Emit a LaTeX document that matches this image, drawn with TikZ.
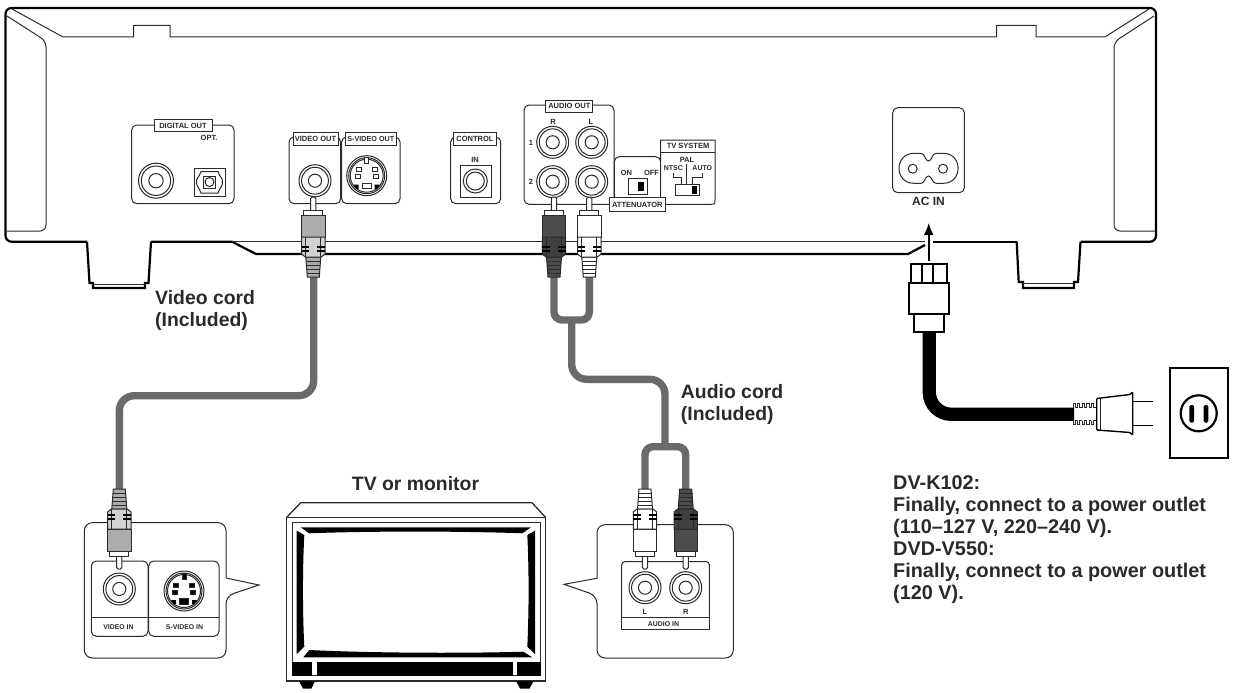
\documentclass[tikz,border=0pt]{standalone}
\usepackage{fontspec}
\setmainfont{Liberation Sans}
\usetikzlibrary{arrows.meta}
\definecolor{cordgray}{HTML}{6A6A6A}
\definecolor{inkgray}{HTML}{2A2A2A}
\tikzset{
  hull/.style={line width=2.2pt,black},
  fine/.style={line width=1pt,inkgray},
  panel/.style={fine,fill=white,rounded corners=5pt},
  cord/.style={line width=7.4pt,cordgray,rounded corners=15pt},
  ycord/.style={line width=7.4pt,cordgray,rounded corners=8pt},
  tag/.style={draw=inkgray,line width=1pt,fill=white,inner sep=0pt,text=inkgray,font=\fontsize{7.5}{9}\selectfont\bfseries},
  small/.style={inner sep=0pt,text=inkgray,font=\fontsize{7.5}{9}\selectfont\bfseries},
  lbl/.style={inner sep=0pt,text=inkgray,align=left,font=\fontsize{19.4}{22}\selectfont\bfseries},
}
\newcommand{\rcajack}[3]{
  \draw[fine,fill=white] (#1,#2) circle (#3);
  \draw[fine] (#1,#2) circle ({#3*.84});
  \draw[fine] (#1,#2) circle ({#3*.41});
}
\newcommand{\svideojack}[3]{
  \begin{scope}[shift={(#1,#2)}]
  \draw[fine,fill=white] (0,0) circle (20);
  \draw[fine] (0,0) circle (18);
  \draw[fine] (0,0) circle (16.5);
  \draw[fine,fill=#3] (-2,-18) rectangle (2,-12);
  \draw[fine,fill=#3] (-10.5,-8) rectangle (-5.5,-4);
  \draw[fine,fill=#3] (5.5,-8) rectangle (10.5,-4);
  \draw[fine,fill=#3] (-11.5,-1) rectangle (-6.5,3);
  \draw[fine,fill=#3] (6.5,-1) rectangle (11.5,3);
  \draw[fine,fill=#3] (-4.5,7.5) rectangle (4.5,13);
  \fill[black] (-13,9) -- (-8,9) -- (-8,13) -- (-10,13.5) -- cycle;
  \fill[black] (13,9) -- (8,9) -- (8,13) -- (10,13.5) -- cycle;
  \end{scope}
}
\newcommand{\rcaplug}[5]{
  \begin{scope}[shift={(#1,#2)},yscale=#3]
  \draw[fine,fill=white,rounded corners=1.5pt] (-2.6,14) -- (-2.6,0) -- (2.6,0) -- (2.6,14);
  \draw[fine,fill=white] (-9.5,13) rectangle (9.5,18);
  \draw[fine,fill=#4] (-7.5,60) -- (-6,80) -- (6,80) -- (7.5,60) -- cycle;
  \foreach \r in {64,68,72,76} {\draw[fine] (-6.8,\r) -- (6.8,\r);}
  \draw[fine,fill=#4] (-11.7,18) rectangle (11.7,40);
  \draw[fine,fill=#5] (-11.7,40) -- (-11.7,57) -- (-8,60) -- (8,60) -- (11.7,57) -- (11.7,40) -- cycle;
  \draw[fine] (-7.5,40) -- (-7.5,60);
  \draw[fine] (7.5,40) -- (7.5,60);
  \fill[black] (-11.7,49) rectangle (-4,51);
  \fill[black] (-11.7,53) rectangle (-4,55);
  \fill[black] (4,49) rectangle (11.7,51);
  \fill[black] (4,53) rectangle (11.7,55);
  \end{scope}
}
\begin{document}
\begin{tikzpicture}[x=1pt,y=-1pt]
\useasboundingbox (0,0) rectangle (1234,693);

\draw[hull,rounded corners=6pt] (87,241.7) -- (5.5,241.7) -- (5.5,8) -- (1156,8) -- (1156,241.7) -- (1080.5,241.7);
\draw[hull] (87,241.7) -- (89.5,283) -- (93,283) -- (93,288) -- (145,288) -- (145,283) -- (148.5,283) -- (151,241.7);
\draw[hull] (1016.7,241.7) -- (1018.7,282) -- (1023,282) -- (1023,288) -- (1074,288) -- (1074,282) -- (1078,282) -- (1080.5,241.7);
\draw[hull] (151,241.7) -- (232,241.7) -- (256,254) -- (908,254) -- (925,245);
\draw[hull] (933,241.7) -- (1016.7,241.7);
\draw[fine] (92,284) -- (146,284);
\draw[fine] (1023,283.5) -- (1074,283.5);
\draw[fine] (232,241.7) -- (925,241.7);
\draw[fine] (12,9) -- (63,37) -- (133.5,37) -- (133.5,25.5) -- (170,25.5) -- (170,37) -- (996.5,37) -- (996.5,25.5) -- (1036,25.5) -- (1036,37) -- (1105,37) -- (1149,9);
\draw[fine,rounded corners=6pt] (7,16) -- (46,41) -- (46,231) -- (7,231);
\draw[fine,rounded corners=6pt] (1154,16) -- (1114,42) -- (1114,231) -- (1155,231);

\draw[panel] (131.7,125) rectangle (234,203.7);
\draw (183,125.7) node (digitalout) [tag,minimum width=58pt,minimum height=12.5pt] {DIGITAL OUT};
\draw (209,137.5) node (opt) [small] {OPT.};
\rcajack{156}{180.7}{17.5}
\draw[fine] (194,168.3) rectangle (225,196.7);
\draw[fine] (201,171.5) -- (218,171.5) .. controls (219.5,177) and (223,178) .. (222.5,182) .. controls (223,186) and (219.5,188) .. (218,193) -- (201,193) .. controls (199.5,188) and (196,186) .. (196.5,182) .. controls (196,178) and (199.5,177) .. (201,171.5) -- cycle;
\draw[fine] (203.3,176) rectangle (215.7,188.3);
\draw[fine] (209.5,182) circle (4.5);

\draw[panel] (289,137) rectangle (340.7,203.7);
\draw[panel] (341.7,137) rectangle (400,203.7);
\draw (315.5,139) node (videoout) [tag,minimum width=45pt,minimum height=13pt] {VIDEO OUT};
\draw (370.8,139) node (svideoout) [tag,minimum width=50.5pt,minimum height=13pt,font=\fontsize{7.2}{9}\selectfont\bfseries] {S-VIDEO OUT};
\rcajack{315}{180.7}{16}
\svideojack{366.7}{175.7}{white}

\draw[panel] (450.7,137) rectangle (500.7,203.7);
\draw (475,139.2) node (control) [tag,minimum width=43.4pt,minimum height=13pt] {CONTROL};
\draw (475,160) node (controlin) [small] {IN};
\draw[fine] (460,165) rectangle (491,197.3);
\draw[fine] (475.3,181) circle (12);
\draw[fine] (475.3,181) circle (9);

\draw[panel] (524,105) rectangle (614,204.3);
\draw (569.3,106.2) node (audioout) [tag,minimum width=46.7pt,minimum height=12.3pt] {AUDIO OUT};
\draw (553,122) node (outr) [small] {R};
\draw (591,122) node (outl) [small] {L};
\draw (531,143) node (outone) [small] {1};
\draw (531,182) node (outtwo) [small] {2};
\rcajack{552.7}{142.3}{16}
\rcajack{591.7}{142.3}{16}
\rcajack{552.7}{181.7}{16}
\rcajack{591.7}{181.7}{16}

\draw[panel] (614.3,156.7) rectangle (660.7,204.3);
\draw[fine,fill=white] (660.7,140) -- (660.7,204.3) -- (710,204.3) .. controls (715,204.3) and (715,204.3) .. (715,199.3) -- (715,140) -- cycle;
\draw[fine] (660.7,152.3) -- (715,152.3);
\draw (637.3,204.7) node (attenuator) [tag,minimum width=56pt,minimum height=14pt] {ATTENUATOR};
\draw (626.5,172.5) node (attenon) [small] {ON};
\draw (651.5,172.5) node (attenoff) [small] {OFF};
\draw[fine] (628,178.7) rectangle (647.3,194.7);
\fill[black] (637.7,182) rectangle (644,191);
\draw (688,146.2) node (tvsystem) [small] {TV SYSTEM};
\draw (687,160) node (pal) [small] {PAL};
\draw (673.3,168.3) node (ntsc) [small,font=\fontsize{7}{9}\selectfont\bfseries] {NTSC};
\draw (702.3,168.3) node (auto) [small,font=\fontsize{7}{9}\selectfont\bfseries] {AUTO};
\draw[fine] (686.3,164) -- (686.3,184.3);
\draw[fine] (673.3,173) -- (673.3,177) -- (681.7,177) -- (681.7,184.3);
\draw[fine] (702,173) -- (702,177) -- (692,177) -- (692,184.3);
\draw[fine] (675.3,184.3) rectangle (699.3,195.7);
\fill[black] (691.7,185.7) rectangle (697.3,194.3);

\draw[panel] (892.7,107.7) rectangle (964.3,192.7);
\draw[fine] (914,153.3) -- (921,153.3) .. controls (925,153.3) and (925,161) .. (928.4,161) .. controls (932,161) and (932,153.3) .. (936,153.3) -- (943.3,153.3) .. controls (963,153.3) and (963,183.3) .. (943.3,183.3) -- (936,183.3) .. controls (932,183.3) and (932,176) .. (928.4,176) .. controls (925,176) and (925,183.3) .. (921,183.3) -- (914,183.3) .. controls (894,183.3) and (894,153.3) .. (914,153.3) -- cycle;
\draw[fine] (912.7,168.7) circle (4.5);
\draw[fine] (943,168.7) circle (4.5);
\draw (928.5,201) node (acin) [small,font=\fontsize{12}{14}\selectfont\bfseries] {AC IN};

\coordinate (plugtop) at (928.7,261);
\coordinate (plughead) at (928.7,223);
\draw[line width=1.8pt,black,-{Latex[length=12pt,width=10pt]}] (plugtop) -- (plughead);

\draw[fine,fill=white] (226,578) [rounded corners=8pt] -- (226,522.7) -- (84.3,522.7) -- (84.3,658) -- (226,658) -- (226,596) [sharp corners] -- (259,585) -- cycle;
\draw[panel] (91.3,561) rectangle (148,636.3);
\draw[panel] (148.7,561) rectangle (219,636.3);
\draw[fine] (91.3,617.7) -- (219,617.7);
\draw (118.5,627) node (videoin) [small,font=\fontsize{6.9}{9}\selectfont\bfseries] {VIDEO IN};
\draw (184.5,627) node (svideoin) [small,font=\fontsize{6.9}{9}\selectfont\bfseries] {S-VIDEO IN};
\rcajack{119.3}{589}{16}
\svideojack{184}{591}{black}

\draw[fine,fill=white] (597,578.3) [rounded corners=8pt] -- (597,524.7) -- (733.3,524.7) -- (733.3,658) -- (597,658) -- (597,595.7) [sharp corners] -- (564,584.3) -- cycle;
\draw[fine,rounded corners=3pt] (621.7,617.7) -- (621.7,561.7) -- (709.3,561.7) -- (709.3,617.7);
\draw[fine] (621.7,617.7) rectangle (709.3,629.3);
\draw (645,612) node (inl) [small] {L};
\draw (685.7,612) node (inr) [small] {R};
\draw (663.5,624.5) node (audioin) [small,font=\fontsize{6.9}{9}\selectfont\bfseries] {AUDIO IN};
\rcajack{645}{587.7}{16}
\rcajack{685.7}{587.7}{16}

\draw[fine,line width=1.3pt] (286.7,517.3) -- (300.7,502.7) -- (532,502.7) -- (545.5,517.3);
\draw[fine,line width=1.3pt,fill=white] (286.7,517.3) rectangle (545.5,681);
\draw[fine] (292,522.7) rectangle (540.7,675.7);
\fill[black] (300.7,527.3) -- (531,527.3) -- (522.3,533.3) .. controls (460,531) and (370,531) .. (309.3,533.3) -- cycle;
\fill[black] (296.7,530.7) -- (304.3,535) .. controls (302.5,570) and (302.5,610) .. (304.3,646.7) -- (296.7,654) -- cycle;
\fill[black] (535,530.7) -- (527.3,535) .. controls (529,570) and (529,610) .. (527.3,646.7) -- (535,654) -- cycle;
\fill[black] (303.3,657.3) -- (532.3,657.3) -- (523.3,651.7) .. controls (460,653.5) and (370,653) .. (309.3,650) -- cycle;
\fill[black] (292,661.7) rectangle (312,675.7);
\fill[black] (317,661.7) rectangle (512.7,675.7);
\fill[black] (517,661.7) rectangle (540.7,675.7);
\fill[black] (299,681) -- (315,681) -- (311.5,688.5) -- (303,688.5) -- cycle;
\fill[black] (516,681) -- (533.7,681) -- (529.5,688.5) -- (520,688.5) -- cycle;
\draw (415.5,490.7) node (tvname) [lbl,anchor=base] {TV or monitor};

\coordinate (videotop) at (313.7,275);
\coordinate (videobot) at (119.3,491);
\coordinate (rtop) at (554,275);
\coordinate (ltop) at (589.3,275);
\coordinate (splittop) at (571.7,320);
\coordinate (splitbot) at (665,446.7);
\coordinate (lbot) at (645,491);
\coordinate (rbot) at (685.7,491);
\draw[cord] (videotop) |- (119.3,395.7) -- (videobot);
\draw[ycord] (rtop) |- (ltop |- splittop) -- (ltop);
\draw[cord] (splittop) |- (665,379.3) -- (splitbot);
\draw[ycord] (lbot) |- (rbot |- splitbot) -- (rbot);

\rcaplug{313.3}{197}{1}{lightgray!90!black}{lightgray!70}
\rcaplug{554}{197}{1}{black!70}{black!75}
\rcaplug{589.3}{197}{1}{white}{white}
\rcaplug{119.3}{569}{-1}{lightgray!90!black}{lightgray!70}
\rcaplug{645}{569}{-1}{white}{white}
\rcaplug{685.7}{569}{-1}{black!70}{black!75}

\draw[hull,fill=white] (911,264.3) rectangle (946.7,283.3);
\draw[hull] (922.3,264.3) -- (922.3,283.3);
\draw[hull] (933.3,264.3) -- (933.3,283.3);
\draw[hull,fill=white] (909.3,283.3) rectangle (949,314.3);
\draw[hull,fill=white] (914.3,314.3) rectangle (944,332.3);
\coordinate (powerneck) at (929.3,333);
\coordinate (powertail) at (1074,414.3);
\draw[line width=13.3pt,black,rounded corners=22pt] (powerneck) |- (powertail);

\foreach \i in {0,...,4} {
  \draw[fine] ({1073+\i*4.6},407.5) -- ({1073+\i*4.6},403.5) -- ({1075.3+\i*4.6},403.5) -- ({1075.3+\i*4.6},407.5) -- ({1077.6+\i*4.6},407.5);
  \draw[fine] ({1073+\i*4.6},420.7) -- ({1073+\i*4.6},424.7) -- ({1075.3+\i*4.6},424.7) -- ({1075.3+\i*4.6},420.7) -- ({1077.6+\i*4.6},420.7);
}
\draw[hull,fill=white,line width=1.4pt,rounded corners=1pt] (1096.7,398.5) -- (1130,394.5) -- (1132.7,392) -- (1132.7,435) -- (1130,432.5) -- (1096.7,430) -- cycle;
\draw[fine] (1100.5,398.5) -- (1100.5,430);
\draw[hull,line width=1.4pt] (1132.7,401.7) -- (1152.7,401.7);
\draw[hull,line width=1.4pt] (1132.7,425.7) -- (1152.7,425.7);

\draw[hull,line width=1.8pt] (1170,367.7) rectangle (1228.3,457.7);
\draw[hull] (1198.7,413.3) circle (18);
\fill[black,rounded corners=1.5pt] (1189.4,405) rectangle (1194,422.7);
\fill[black,rounded corners=1.5pt] (1203.7,405) rectangle (1208.3,422.7);

\draw (155,290) node (videocord) [lbl,anchor=north west] {Video cord\\(Included)};
\draw (680.7,384.4) node (audiocord) [lbl,anchor=north west] {Audio cord\\(Included)};
\draw (893,475) node (powernote) [lbl,anchor=north west,font=\fontsize{19.85}{22}\selectfont\bfseries] {DV-K102:\\Finally, connect to a power outlet\\(110--127 V, 220--240 V).\\DVD-V550:\\Finally, connect to a power outlet\\(120 V).};
\end{tikzpicture}
\end{document}
